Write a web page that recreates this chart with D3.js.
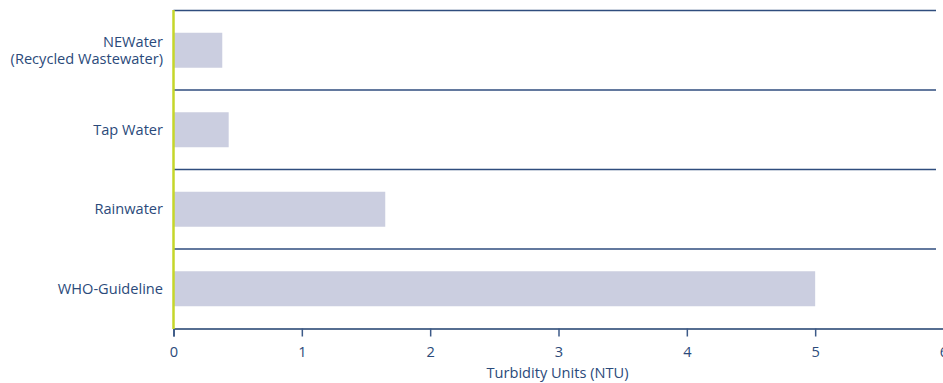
<!DOCTYPE html>
<html>
<head>
<meta charset="utf-8">
<script src="https://cdn.jsdelivr.net/npm/d3@7"></script>
<style>
body { margin: 0; background: #fff; }
svg text { font-family: "Open Sans", sans-serif; fill: #2b4a7a; }
</style>
</head>
<body>
<svg id="chart"></svg>
<script>
// categories, top to bottom
var categories = [["NEWater", "(Recycled Wastewater)"], ["Tap Water"], ["Rainwater"], ["WHO-Guideline"]];
var turbidity = [0.38, 0.43, 1.65, 5];
var xTicks = [0, 1, 2, 3, 4, 5, 6];
var xTitle = "Turbidity Units (NTU)";

const canvasWidth = 943;
const canvasHeight = 383;
const fontSize = 14.6;
var svg = d3.select("#chart").attr("width", canvasWidth).attr("height", canvasHeight);

let x_scale = d3.scaleLinear().domain([0, 6]).range([173.5, 943.5]);
let y_scale = d3.scaleBand().domain(d3.range(categories.length)).range([10.5, 328.5]);
let barH = 35;

// separator lines at the top of each band
svg.selectAll(".sep")
   .data(d3.range(categories.length)).enter()
   .append("line")
   .attr("class", "sep")
   .attr("x1", x_scale(0)).attr("x2", 936)
   .attr("y1", (d) => y_scale(d)).attr("y2", (d) => y_scale(d))
   .attr("stroke", "#2f4d7e").attr("stroke-width", 1.5);

svg.selectAll(".bar")
   .data(turbidity).enter()
   .append("rect")
   .attr("class", "bar")
   .attr("x", x_scale(0))
   .attr("y", (d, i) => y_scale(i) + y_scale.bandwidth() / 2 - barH / 2)
   .attr("width", (d) => x_scale(d) - x_scale(0))
   .attr("height", barH)
   .attr("fill", "#cbcee0");

// category labels
svg.selectAll(".cat")
   .data(categories).enter()
   .append("text")
   .attr("class", "cat")
   .attr("text-anchor", "end")
   .attr("font-size", fontSize)
   .attr("x", x_scale(0) - 10.5)
   .attr("y", (d, i) => y_scale(i) + y_scale.bandwidth() / 2)
   .each(function(d) {
       let t = d3.select(this);
       d.forEach((line, j) => {
           t.append("tspan")
            .attr("x", x_scale(0) - 10.5)
            .attr("dy", j == 0 ? (0.35 - (d.length - 1) * 0.6) + "em" : "1.2em")
            .text(line);
       });
   });

// bottom axis
let x_axis = d3.axisBottom(x_scale).tickValues(xTicks).tickFormat(d3.format("d")).tickSize(8).tickPadding(10);
let gx = svg.append("g")
   .attr("transform", "translate(0," + 328.5 + ")")
   .call(x_axis);
gx.attr("font-family", null).attr("font-size", null);
gx.select(".domain").attr("stroke", "#1f3f6e").attr("stroke-width", 1.5);
gx.selectAll(".tick line").attr("stroke", "#3d5a88").attr("stroke-width", 1.5);
gx.selectAll(".tick text").attr("font-size", fontSize).attr("fill", null);

svg.append("text")
   .attr("x", x_scale(3) - 1)
   .attr("y", 378)
   .attr("text-anchor", "middle")
   .attr("font-size", fontSize)
   .text(xTitle);

// green left axis
svg.append("line")
   .attr("x1", x_scale(0)).attr("x2", x_scale(0))
   .attr("y1", 10).attr("y2", 329)
   .attr("stroke", "#c5d62a").attr("stroke-width", 2.5);
</script>
</body>
</html>
